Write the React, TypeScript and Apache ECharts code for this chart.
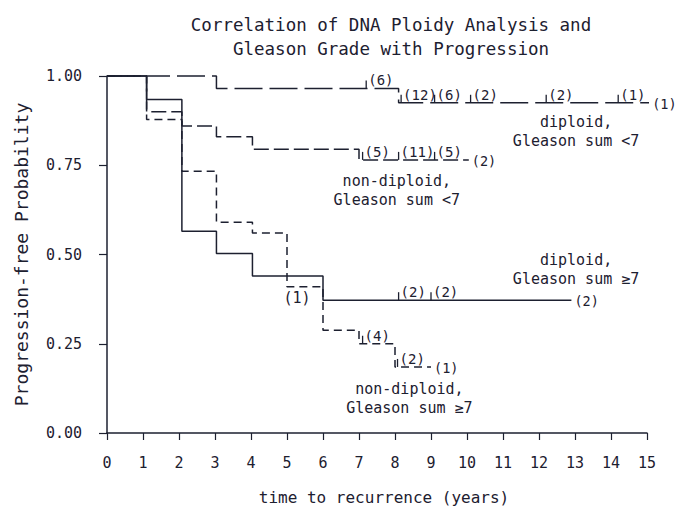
import React, { useEffect, useRef } from "react";
import * as echarts from "echarts";

// x ticks (years) and y ticks
const yearTicks = [0, 1, 2, 3, 4, 5, 6, 7, 8, 9, 10, 11, 12, 13, 14, 15];
const probTicks = [0, 0.25, 0.5, 0.75, 1.0];

// Kaplan-Meier step curves: [time, survival after time]
const diploidLow = [[0, 1], [3.04, 0.965], [8.1, 0.925], [15.06, 0.925]];
const nonDiploidLow = [[0, 1], [1.1, 0.9], [2.08, 0.86], [3.04, 0.83], [4.04, 0.795], [7.0, 0.765], [10.05, 0.765]];
const diploidHigh = [[0, 1], [1.1, 0.934], [2.08, 0.565], [3.04, 0.503], [4.04, 0.44], [6.0, 0.372], [12.9, 0.372]];
const nonDiploidHigh = [[0, 1], [1.1, 0.878], [2.08, 0.733], [3.04, 0.59], [4.04, 0.56], [5.0, 0.41], [6.0, 0.288], [7.0, 0.25], [8.0, 0.185], [9.0, 0.185]];

// censor marks: [time, survival, count label]
const diploidLowCensor = [[7.2, 0.965, "(6)"], [8.17, 0.925, "(12)"], [9.1, 0.925, "(6)"], [10.1, 0.925, "(2)"], [12.2, 0.925, "(2)"], [14.2, 0.925, "(1)"]];
const nonDiploidLowCensor = [[7.1, 0.765, "(5)"], [8.1, 0.765, "(11)"], [9.1, 0.765, "(5)"]];
const diploidHighCensor = [[8.1, 0.372, "(2)"], [9.0, 0.372, "(2)"]];
const nonDiploidHighCensor = [[7.1, 0.25, "(4)"], [8.07, 0.185, "(2)"]];

// end-of-curve counts
const endLabels = [[15.06, 0.925, "(1)"], [10.05, 0.765, "(2)"], [12.9, 0.372, "(2)"], [9.0, 0.185, "(1)"]];

// group annotations: [time, survival, text]
const groupNotes = [
  [13.03, 0.845, "diploid,\nGleason sum <7"],
  [8.05, 0.68, "non-diploid,\nGleason sum <7"],
  [13.03, 0.459, "diploid,\nGleason sum \u22657"],
  [8.4, 0.098, "non-diploid,\nGleason sum \u22657"],
  [5.28, 0.378, "(1)"],
];

const INK = "#1d2030";
const FONT = '"DejaVu Sans Mono", monospace';

export default function App() {
  const ref = useRef<HTMLDivElement>(null);
  useEffect(() => {
    if (!ref.current) return;
    const chart = echarts.init(ref.current, null, { renderer: "svg" });
    const censors = [...diploidLowCensor, ...nonDiploidLowCensor, ...diploidHighCensor, ...nonDiploidHighCensor];

    const stepSeries = (data: number[][], dash: any) => ({
      type: "line",
      step: "end",
      data,
      symbol: "none",
      clip: false,
      xAxisIndex: 0,
      yAxisIndex: 0,
      lineStyle: { color: INK, width: 1.5, type: dash },
      z: 3,
    });

    chart.setOption({
      animation: false,
      backgroundColor: "#ffffff",
      title: {
        text: "Correlation of DNA Ploidy Analysis and\nGleason Grade with Progression",
        left: 386,
        top: 8,
        textAlign: "center",
        textStyle: { fontFamily: FONT, fontSize: 17.5, fontWeight: "normal", color: INK, lineHeight: 24 },
      },
      grid: { left: 107, right: 33, top: 76, bottom: 85, containLabel: false },
      xAxis: [
        {
          type: "value", min: 0, max: 15, interval: 1,
          axisLine: { show: true, lineStyle: { color: INK, width: 1.5 } },
          axisTick: { show: false }, axisLabel: { show: false }, splitLine: { show: false },
        },
        {
          type: "value", min: 0, max: 15, interval: 1, position: "bottom", offset: 12,
          axisLine: { show: false },
          axisTick: { show: true, length: 7, lineStyle: { color: INK, width: 1.2 } },
          axisLabel: {
            margin: 10, color: INK, fontFamily: FONT, fontSize: 15,
            formatter: (v: number) => (yearTicks.includes(v) ? String(v) : ""),
          },
          splitLine: { show: false },
          name: "time to recurrence (years)",
          nameLocation: "middle",
          nameGap: 44,
          nameTextStyle: { fontFamily: FONT, fontSize: 16, color: INK, padding: [0, 0, 0, 14] },
        },
      ],
      yAxis: [
        {
          type: "value", min: 0, max: 1, interval: 0.25,
          axisLine: { show: true, lineStyle: { color: INK, width: 1.5 } },
          axisTick: { show: false }, axisLabel: { show: false }, splitLine: { show: false },
        },
        {
          type: "value", min: 0, max: 1, interval: 0.25, position: "left", offset: 11,
          axisLine: { show: false },
          axisTick: { show: true, length: 8, lineStyle: { color: INK, width: 1.2 } },
          axisLabel: {
            margin: 14, color: INK, fontFamily: FONT, fontSize: 15,
            formatter: (v: number) => (probTicks.includes(v) ? v.toFixed(2) : ""),
          },
          splitLine: { show: false },
          name: "Progression-free Probability",
          nameLocation: "middle",
          nameRotate: 90,
          nameGap: 66,
          nameTextStyle: { fontFamily: FONT, fontSize: 18, color: INK },
        },
      ],
      series: [
        stepSeries(nonDiploidHigh, [8, 5]),
        stepSeries(nonDiploidLow, [15, 5]),
        stepSeries(diploidLow, [28, 7]),
        stepSeries(diploidHigh, "solid"),
        {
          type: "custom",
          xAxisIndex: 0, yAxisIndex: 0,
          data: censors.map((c) => [c[0], c[1]]),
          encode: { x: 0, y: 1 },
          z: 4,
          renderItem: (params: any, api: any) => {
            const p = api.coord([api.value(0), api.value(1)]);
            const label = censors[params.dataIndex][2] as string;
            return {
              type: "group",
              children: [
                { type: "line", shape: { x1: p[0], y1: p[1], x2: p[0], y2: p[1] - 8 }, style: { stroke: INK, lineWidth: 1.3 } },
                { type: "text", x: p[0] + 2, y: p[1] - 1, style: { text: label, fill: INK, font: `14px ${FONT}`, align: "left", verticalAlign: "bottom" } },
              ],
            };
          },
        },
        {
          type: "custom",
          xAxisIndex: 0, yAxisIndex: 0,
          data: endLabels.map((c) => [c[0], c[1]]),
          encode: { x: 0, y: 1 },
          z: 4,
          renderItem: (params: any, api: any) => {
            const p = api.coord([api.value(0), api.value(1)]);
            return {
              type: "text", x: p[0] + 3, y: p[1] + 1,
              style: { text: endLabels[params.dataIndex][2] as string, fill: INK, font: `13.5px ${FONT}`, align: "left", verticalAlign: "middle" },
            };
          },
        },
        {
          type: "custom",
          xAxisIndex: 0, yAxisIndex: 0,
          data: groupNotes.map((c) => [c[0], c[1]]),
          encode: { x: 0, y: 1 },
          z: 4,
          renderItem: (params: any, api: any) => {
            const p = api.coord([api.value(0), api.value(1)]);
            return {
              type: "text", x: p[0], y: p[1],
              style: { text: groupNotes[params.dataIndex][2] as string, fill: INK, font: `15px ${FONT}`, align: "center", verticalAlign: "middle", lineHeight: 19 },
            };
          },
        },
      ],
    });
    return () => chart.dispose();
  }, []);
  return (
    <div
      ref={ref}
      style={{ position: "absolute", left: 0, top: 0, width: 680, height: 518, background: "#fff" }}
    />
  );
}
